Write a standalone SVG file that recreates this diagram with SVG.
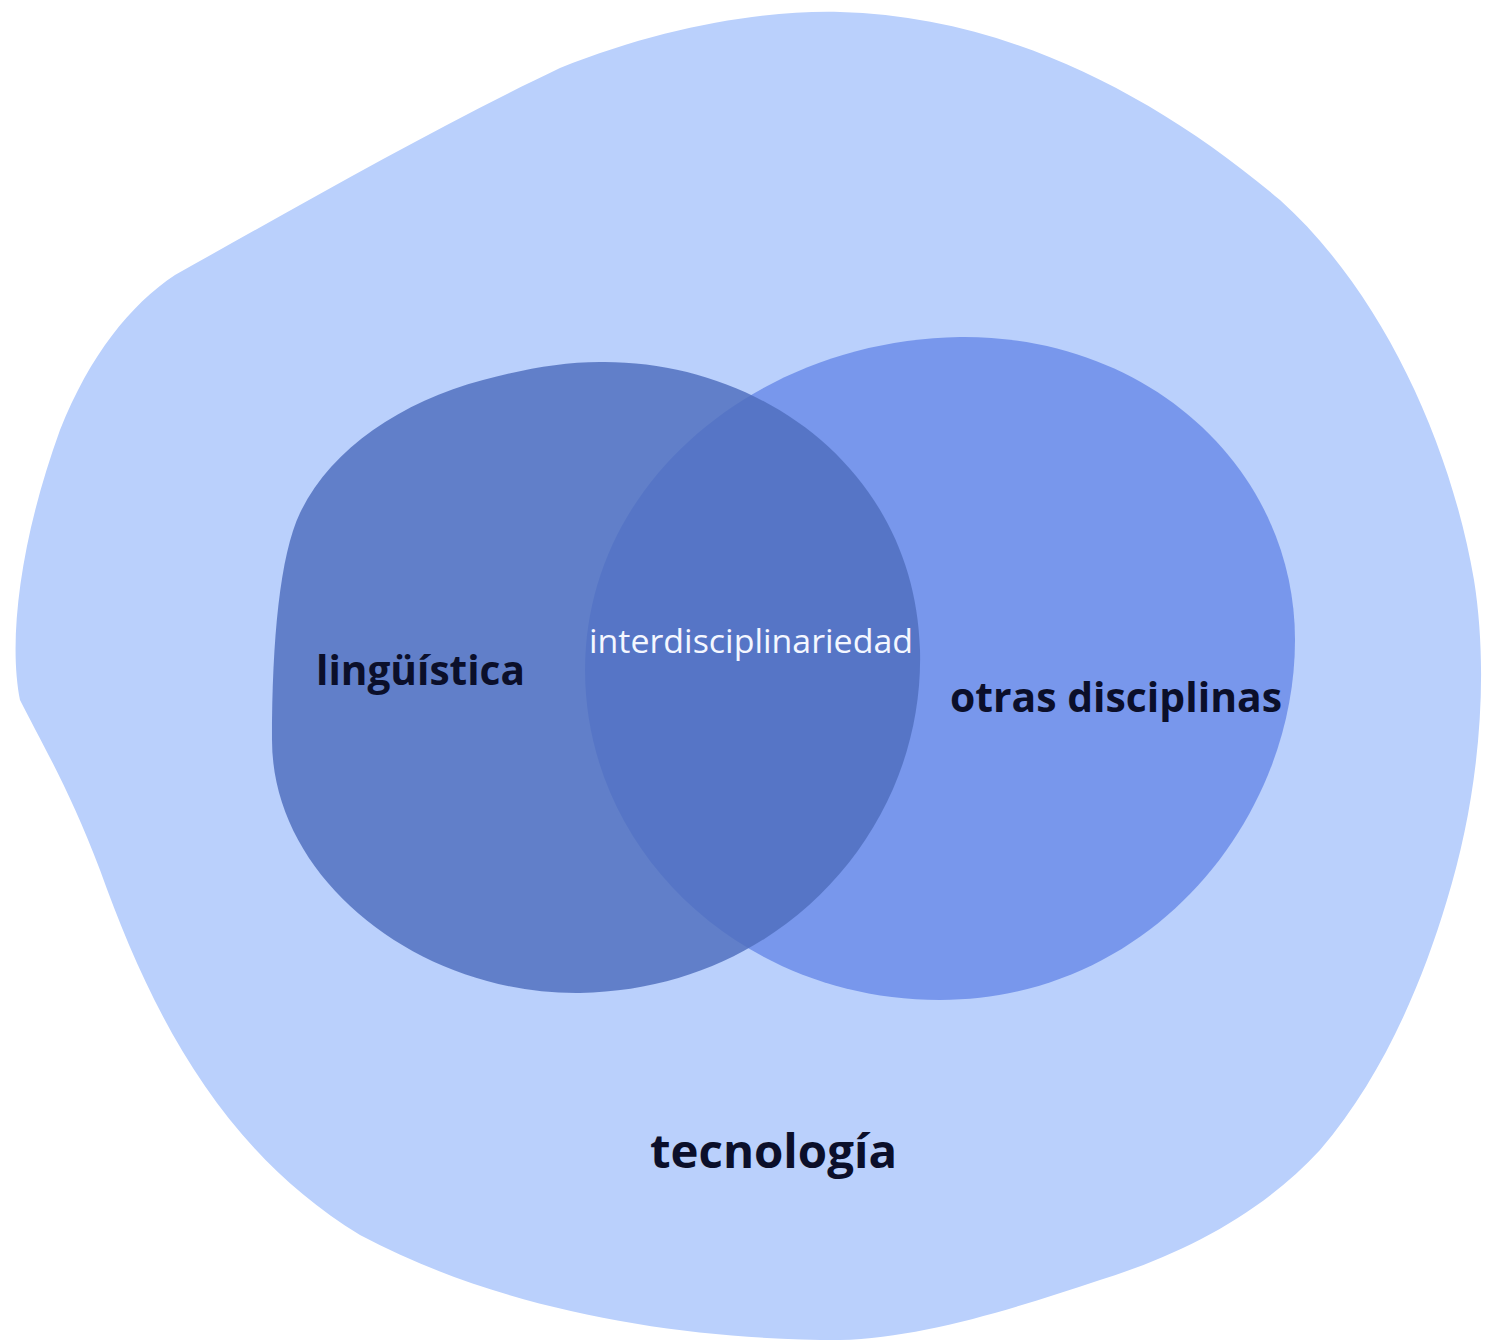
<svg xmlns="http://www.w3.org/2000/svg" width="1486" height="1342" viewBox="0 0 1486 1342">
<style>
.lbl{font-family:"Open Sans","Noto Sans","Liberation Sans",sans-serif;font-weight:700;fill:#0B0F2A}
.inner{font-family:"Open Sans","Noto Sans","Liberation Sans",sans-serif;font-weight:400;fill:#F4F7FF}
</style>
<rect width="1486" height="1342" fill="#FFFFFF"/>
<g id="tecnologia">
<path d="M 175 275 C 300 205 440 125 560 68 C 660 28 760 10 840 12 C 1000 16 1150 90 1280 200 C 1380 290 1450 440 1474 580 C 1490 680 1478 800 1447 900 C 1420 990 1380 1080 1320 1150 C 1260 1215 1180 1255 1100 1280 C 1010 1310 920 1338 840 1340 C 680 1340 500 1310 360 1235 C 220 1150 150 1010 100 870 C 70 790 40 740 20 700 C 8 640 20 540 60 430 C 90 355 130 305 175 275 Z" fill="#BAD0FC"/>
<text class="lbl" x="650" y="1168" font-size="46" textLength="247" lengthAdjust="spacingAndGlyphs">tecnología</text>
</g>
<g id="otras-disciplinas">
<path d="M 960 337 C 1150 335 1295 470 1295 640 C 1295 820 1150 1000 940 1000 C 740 1000 585 850 585 670 C 585 480 760 340 960 337 Z" fill="#7897EC"/>
<text class="lbl" x="950" y="712" font-size="42" textLength="332" lengthAdjust="spacingAndGlyphs">otras disciplinas</text>
</g>
<g id="linguistica">
<path d="M 600 362 C 760 360 915 470 920 650 C 925 830 780 990 580 993 C 420 995 272 880 272 740 C 272 640 280 555 300 513 C 330 450 400 402 483 380 C 525 369 562 362 600 362 Z" fill="#4F6FBE" fill-opacity="0.83"/>
<text class="lbl" x="316" y="685" font-size="42" textLength="209" lengthAdjust="spacingAndGlyphs">lingüística</text>
</g>
<g id="interdisciplinariedad">
<text class="inner" x="589" y="653" font-size="32" textLength="324" lengthAdjust="spacingAndGlyphs">interdisciplinariedad</text>
</g>
<g id="connectors"/>
</svg>
